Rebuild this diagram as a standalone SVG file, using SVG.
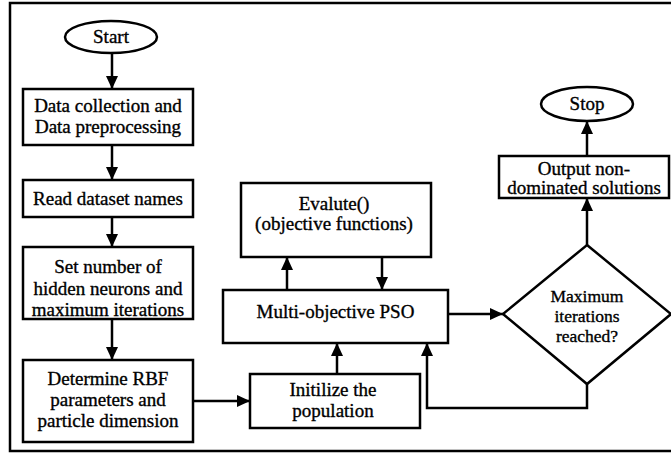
<svg xmlns="http://www.w3.org/2000/svg" width="671" height="453" viewBox="0 0 671 453">
<defs>
<marker id="ah" markerUnits="userSpaceOnUse" markerWidth="14" markerHeight="12" refX="13" refY="6" orient="auto">
<path d="M0,0 L13,6 L0,12 z" fill="#000"/>
</marker>
<style>
.box{fill:#fff;stroke:#000;stroke-width:2.5}
.t{font-family:"Liberation Serif","Times New Roman",serif;font-size:19px;fill:#000;stroke:#000;stroke-width:0.35;text-anchor:middle}
.d{font-size:17.5px}
.c{fill:none;stroke:#000;stroke-width:2.5;marker-end:url(#ah)}
</style>
</defs>
<rect x="0" y="0" width="671" height="453" fill="#fff"/>
<rect x="10" y="3" width="670" height="448" fill="none" stroke="#000" stroke-width="2.5"/>
<g id="connectors">
<line class="c" x1="112" y1="53" x2="112" y2="89"/>
<line class="c" x1="112" y1="145" x2="112" y2="180"/>
<line class="c" x1="112" y1="217" x2="112" y2="247"/>
<line class="c" x1="112" y1="319" x2="112" y2="360"/>
<line class="c" x1="193" y1="401" x2="250" y2="401"/>
<line class="c" x1="337" y1="374" x2="337" y2="343"/>
<line class="c" x1="287" y1="290" x2="287" y2="257"/>
<line class="c" x1="382" y1="257" x2="382" y2="290"/>
<line class="c" x1="448" y1="314" x2="503" y2="314"/>
<polyline class="c" points="587,384 587,408 427,408 427,343"/>
<line class="c" x1="587" y1="245" x2="587" y2="198"/>
<line class="c" x1="587" y1="156" x2="587" y2="121"/>
</g>
<g id="start">
<ellipse class="box" cx="111" cy="37" rx="46" ry="16"/>
<text class="t" x="111" y="43">Start</text>
</g>
<g id="collect">
<rect class="box" x="23" y="89" width="170" height="56"/>
<text class="t" x="108" y="112">Data collection and</text>
<text class="t" x="108" y="133">Data preprocessing</text>
</g>
<g id="read">
<rect class="box" x="23" y="180" width="170" height="37"/>
<text class="t" x="108" y="205">Read dataset names</text>
</g>
<g id="setnum">
<rect class="box" x="23" y="247" width="170" height="72"/>
<text class="t" x="108" y="273">Set number of</text>
<text class="t" x="108" y="295">hidden neurons and</text>
<text class="t" x="108" y="316">maximum iterations</text>
</g>
<g id="determine">
<rect class="box" x="23" y="360" width="170" height="82"/>
<text class="t" x="108" y="385">Determine RBF</text>
<text class="t" x="108" y="406">parameters and</text>
<text class="t" x="108" y="427">particle dimension</text>
</g>
<g id="init">
<rect class="box" x="250" y="374" width="170" height="54"/>
<text class="t" x="333" y="396">Initilize the</text>
<text class="t" x="333" y="417">population</text>
</g>
<g id="mopso">
<rect class="box" x="223" y="290" width="225" height="53"/>
<text class="t" x="335.5" y="318">Multi-objective PSO</text>
</g>
<g id="evalute">
<rect class="box" x="241" y="183" width="190" height="74"/>
<text class="t" x="334" y="210">Evalute()</text>
<text class="t" x="334" y="230">(objective functions)</text>
</g>
<g id="decision">
<polygon class="box" points="587,245 671,314 587,384 503,314"/>
<text class="t d" x="587" y="302">Maximum</text>
<text class="t d" x="587" y="322">iterations</text>
<text class="t d" x="587" y="342">reached?</text>
</g>
<g id="output">
<rect class="box" x="499" y="156" width="170" height="42"/>
<text class="t" x="584" y="175">Output non-</text>
<text class="t" x="584" y="194">dominated solutions</text>
</g>
<g id="stop">
<ellipse class="box" cx="587" cy="104" rx="46" ry="17"/>
<text class="t" x="587" y="110">Stop</text>
</g>
</svg>
